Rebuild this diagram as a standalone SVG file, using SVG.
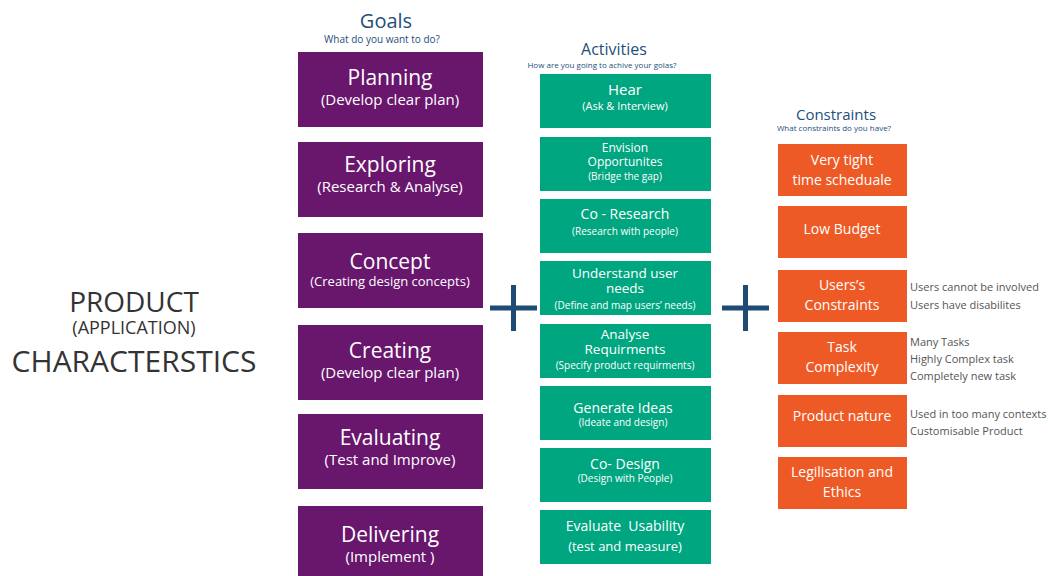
<svg xmlns="http://www.w3.org/2000/svg" width="1048" height="576" viewBox="0 0 1048 576">
<style>
text{font-family:"Open Sans","Noto Sans",sans-serif;text-anchor:middle}
.g rect{fill:#69166d}
.a rect{fill:#00a67f}
.c rect{fill:#ee5a25}
.w{fill:#fff}
.h{fill:#1d4f7c}
.side{fill:#555;text-anchor:start;font-size:11px}
.plus{stroke:#1d4b73;stroke-width:5;fill:none}
</style>
<rect width="1048" height="576" fill="#fff"/>
<g id="left-title" fill="#333">
<text x="134" y="312" font-size="28" fill="#333">PRODUCT</text>
<text x="134" y="334" font-size="18" fill="#333">(APPLICATION)</text>
<text x="134" y="372" font-size="30" fill="#333">CHARACTERSTICS</text>
</g>
<g id="goals-header">
<text class="h" x="386" y="28" font-size="20">Goals</text>
<text class="h" x="382" y="43" font-size="10">What do you want to do?</text>
</g>
<g id="activities-header">
<text class="h" x="614" y="55" font-size="16">Activities</text>
<text class="h" x="602" y="68" font-size="8">How are you going to achive your golas?</text>
</g>
<g id="constraints-header">
<text class="h" x="836" y="120" font-size="15">Constraints</text>
<text class="h" x="834" y="131" font-size="8">What constraints do you have?</text>
</g>
<g id="goal-planning" class="g"><rect x="298" y="52" width="185" height="75"/>
<text class="w" x="390" y="85" font-size="21">Planning</text><text class="w" x="390" y="105" font-size="15">(Develop clear plan)</text></g>
<g id="goal-exploring" class="g"><rect x="298" y="142" width="185" height="75"/>
<text class="w" x="390" y="172" font-size="21">Exploring</text><text class="w" x="390" y="192" font-size="15">(Research &amp; Analyse)</text></g>
<g id="goal-concept" class="g"><rect x="298" y="233" width="185" height="75"/>
<text class="w" x="390" y="269" font-size="21">Concept</text><text class="w" x="390" y="286" font-size="13">(Creating design concepts)</text></g>
<g id="goal-creating" class="g"><rect x="298" y="325" width="185" height="75"/>
<text class="w" x="390" y="358" font-size="21">Creating</text><text class="w" x="390" y="378" font-size="15">(Develop clear plan)</text></g>
<g id="goal-evaluating" class="g"><rect x="298" y="414" width="185" height="75"/>
<text class="w" x="390" y="445" font-size="21">Evaluating</text><text class="w" x="390" y="465" font-size="15">(Test and Improve)</text></g>
<g id="goal-delivering" class="g"><rect x="298" y="506" width="185" height="70"/>
<text class="w" x="390" y="542" font-size="21">Delivering</text><text class="w" x="390" y="562" font-size="15">(Implement )</text></g>
<g id="act-hear" class="a"><rect x="540" y="74" width="171" height="54"/>
<text class="w" x="625" y="95" font-size="15">Hear</text><text class="w" x="625" y="110" font-size="11">(Ask &amp; Interview)</text></g>
<g id="act-envision" class="a"><rect x="540" y="137" width="171" height="54"/>
<text class="w" x="625" y="152" font-size="12">Envision</text><text class="w" x="625" y="166" font-size="12">Opportunites</text><text class="w" x="625" y="180" font-size="10">(Bridge the gap)</text></g>
<g id="act-coresearch" class="a"><rect x="540" y="199" width="171" height="54"/>
<text class="w" x="625" y="219" font-size="14">Co - Research</text><text class="w" x="625" y="235" font-size="10">(Research with people)</text></g>
<g id="act-understand" class="a"><rect x="540" y="261" width="171" height="54"/>
<text class="w" x="625" y="278" font-size="13.5">Understand user</text><text class="w" x="625" y="293" font-size="13.5">needs</text><text class="w" x="625" y="309" font-size="10">(Define and map users’ needs)</text></g>
<g id="act-analyse" class="a"><rect x="540" y="324" width="171" height="54"/>
<text class="w" x="625" y="339" font-size="13.5">Analyse</text><text class="w" x="625" y="354" font-size="13.5">Requirments</text><text class="w" x="625" y="369" font-size="10">(Specify product requirments)</text></g>
<g id="act-generate" class="a"><rect x="540" y="386" width="171" height="54"/>
<text class="w" x="623" y="413" font-size="14">Generate Ideas</text><text class="w" x="623" y="426" font-size="10">(Ideate and design)</text></g>
<g id="act-codesign" class="a"><rect x="540" y="448" width="171" height="54"/>
<text class="w" x="625" y="469" font-size="14">Co- Design</text><text class="w" x="625" y="482" font-size="10">(Design with People)</text></g>
<g id="act-evaluate" class="a"><rect x="540" y="510" width="171" height="54"/>
<text class="w" x="625" y="531" font-size="14" xml:space="preserve">Evaluate  Usability</text><text class="w" x="625" y="551" font-size="13">(test and measure)</text></g>
<g id="con-time" class="c"><rect x="778" y="144" width="129" height="52"/>
<text class="w" x="842" y="165" font-size="14">Very tight</text><text class="w" x="842" y="185" font-size="14">time scheduale</text></g>
<g id="con-budget" class="c"><rect x="778" y="206" width="129" height="52"/>
<text class="w" x="842" y="234" font-size="14">Low Budget</text></g>
<g id="con-users" class="c"><rect x="778" y="270" width="129" height="52"/>
<text class="w" x="842" y="290" font-size="14">Users’s</text><text class="w" x="842" y="310" font-size="14">Constraints</text>
<text class="side" x="910" y="291">Users cannot be involved</text><text class="side" x="910" y="309">Users have disabilites</text></g>
<g id="con-task" class="c"><rect x="778" y="332" width="129" height="52"/>
<text class="w" x="842" y="352" font-size="14">Task</text><text class="w" x="842" y="372" font-size="14">Complexity</text>
<text class="side" x="910" y="346">Many Tasks</text><text class="side" x="910" y="363">Highly Complex task</text><text class="side" x="910" y="380">Completely new task</text></g>
<g id="con-nature" class="c"><rect x="778" y="395" width="129" height="52"/>
<text class="w" x="842" y="421" font-size="14">Product nature</text>
<text class="side" x="910" y="418">Used in too many contexts</text><text class="side" x="910" y="435">Customisable Product</text></g>
<g id="con-legislation" class="c"><rect x="778" y="457" width="129" height="52"/>
<text class="w" x="842" y="477" font-size="14">Legilisation and</text><text class="w" x="842" y="497" font-size="14">Ethics</text></g>
<g id="connectors">
<path class="plus" d="M490 308H537M513.5 285V331"/>
<path class="plus" d="M722 308H769M745.5 285V331"/>
</g>
</svg>
